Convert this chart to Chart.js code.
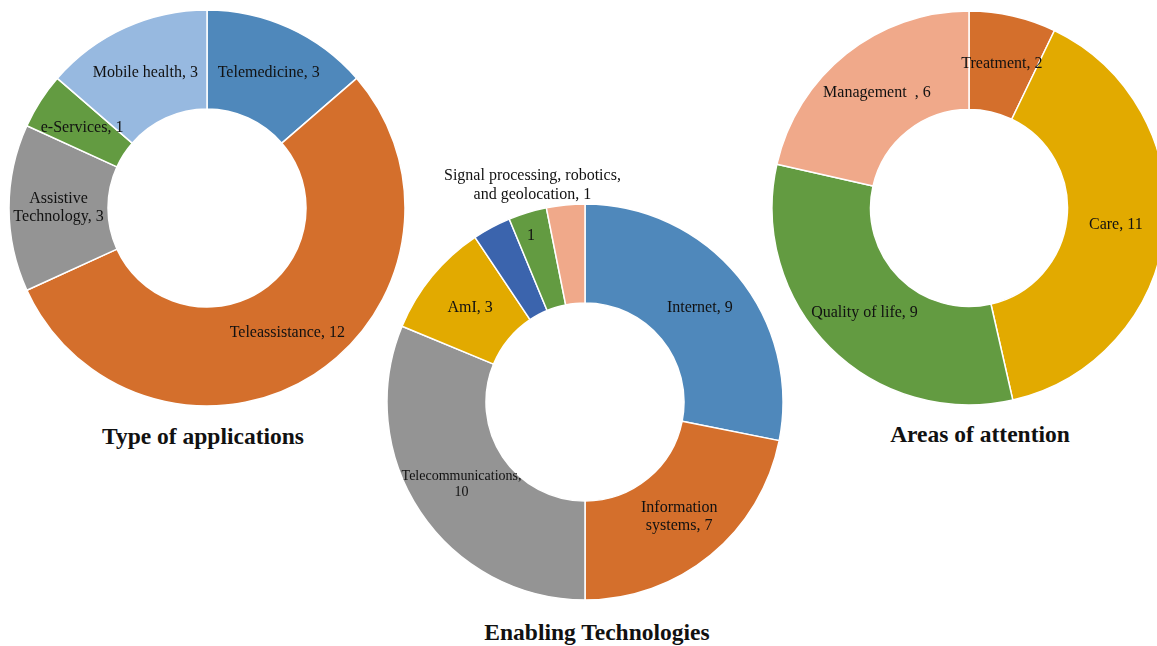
<!DOCTYPE html>
<html>
<head>
<meta charset="utf-8">
<script src="https://cdn.jsdelivr.net/npm/chart.js@4/dist/chart.umd.min.js"></script>
<style>
  html, body { margin: 0; padding: 0; background: #fff; overflow: hidden; }
  body { width: 1157px; height: 646px; position: relative; }
  .wrap { position: absolute; width: 400px; height: 400px; }
  .title {
    position: absolute;
    font-family: "Liberation Serif", "Times New Roman", serif;
    font-weight: bold;
    font-size: 23.5px;
    color: #111;
    transform: translate(-50%, -50%);
    white-space: nowrap;
  }
</style>
</head>
<body>
<div class="wrap" style="left:7px; top:8px;"><canvas id="chart-apps"></canvas></div>
<!-- taller box: the top label of this chart sits above the ring -->
<div class="wrap" style="left:385px; top:142px; height:460px;"><canvas id="chart-tech"></canvas></div>
<div class="wrap" style="left:769px; top:8px;"><canvas id="chart-areas"></canvas></div>

<div class="title" style="left:203px; top:436px;">Type of applications</div>
<div class="title" style="left:597px; top:632px;">Enabling Technologies</div>
<div class="title" style="left:980px; top:434px;">Areas of attention</div>

<script>
// Type of applications
const appCategories = ['Telemedicine', 'Teleassistance', 'Assistive Technology', 'e-Services', 'Mobile health'];
const appValues = [3, 12, 3, 1, 3];

// Enabling Technologies (two small slices have no category label in the figure)
const techCategories = ['Internet', 'Information systems', 'Telecommunications', 'AmI', '', '', 'Signal processing, robotics, and geolocation'];
const techValues = [9, 7, 10, 3, 1, 1, 1];

// Areas of attention
const areaCategories = ['Treatment', 'Care', 'Quality of life', 'Management  '];
const areaValues = [2, 11, 9, 6];

const BLUE = '#4f88bb';
const ORANGE = '#d46f2c';
const GRAY = '#949494';
const GREEN = '#639b41';
const LIGHT_BLUE = '#97b9e0';
const GOLD = '#e2aa00';
const DARK_BLUE = '#3b64ad';
const SALMON = '#f0a98a';

// draws "name, value" text at each slice centre
const sliceLabels = {
  id: 'sliceLabels',
  afterDatasetsDraw(chart, args, opts) {
    const { ctx } = chart;
    const meta = chart.getDatasetMeta(0);
    ctx.save();
    ctx.fillStyle = '#111';
    ctx.textAlign = 'center';
    ctx.textBaseline = 'middle';
    meta.data.forEach((arc, i) => {
      const lines = opts.lines[i];
      if (!lines || !lines.length) return;
      const nudge = (opts.nudge && opts.nudge[i]) || [0, 0];
      const size = (opts.sizes && opts.sizes[i]) || 16;
      const lh = size * 1.15;
      const p = arc.tooltipPosition();
      ctx.font = `${size}px "Liberation Serif", "Times New Roman", serif`;
      lines.forEach((line, j) => {
        ctx.fillText(line, p.x + nudge[0], p.y + nudge[1] + (j - (lines.length - 1) / 2) * lh);
      });
    });
    ctx.restore();
  }
};

const makeDoughnut = (id, labels, values, colors, radius, padTop, labelOpts) => {
  return new Chart(document.getElementById(id), {
    type: 'doughnut',
    data: {
      labels,
      datasets: [{
        data: values,
        backgroundColor: colors,
        borderColor: '#ffffff',
        borderWidth: 1.5,
        hoverOffset: 0
      }]
    },
    options: {
      responsive: true,
      maintainAspectRatio: false,
      animation: false,
      radius,
      cutout: '50%',
      layout: { padding: { top: padTop } },
      plugins: {
        legend: { display: false },
        tooltip: { enabled: false },
        sliceLabels: labelOpts
      }
    },
    plugins: [sliceLabels]
  });
};

makeDoughnut('chart-apps', appCategories, appValues,
  [BLUE, ORANGE, GRAY, GREEN, LIGHT_BLUE], 198, 0, {
    lines: [
      [`${appCategories[0]}, ${appValues[0]}`],
      [`${appCategories[1]}, ${appValues[1]}`],
      ['Assistive', `Technology, ${appValues[2]}`],
      [`${appCategories[3]}, ${appValues[3]}`],
      [`${appCategories[4]}, ${appValues[4]}`]
    ]
  });

makeDoughnut('chart-tech', techCategories, techValues,
  [BLUE, ORANGE, GRAY, GOLD, DARK_BLUE, GREEN, SALMON], 198, 60, {
    lines: [
      [`${techCategories[0]}, ${techValues[0]}`],
      ['Information', `systems, ${techValues[1]}`],
      [`${techCategories[2]},`, `${techValues[2]}`],
      [`${techCategories[3]}, ${techValues[3]}`],
      [],
      [`${techValues[5]}`],
      ['Signal processing, robotics,', `and geolocation, ${techValues[6]}`]
    ],
    sizes: [16, 16, 14, 16, 16, 16, 16],
    nudge: [null, null, null, null, null, [-11, -24], [-38, -69]]
  });

makeDoughnut('chart-areas', areaCategories, areaValues,
  [ORANGE, GOLD, GREEN, SALMON], 197, 0, {
    lines: areaCategories.map((c, i) => [`${c}, ${areaValues[i]}`])
  });
</script>
</body>
</html>
